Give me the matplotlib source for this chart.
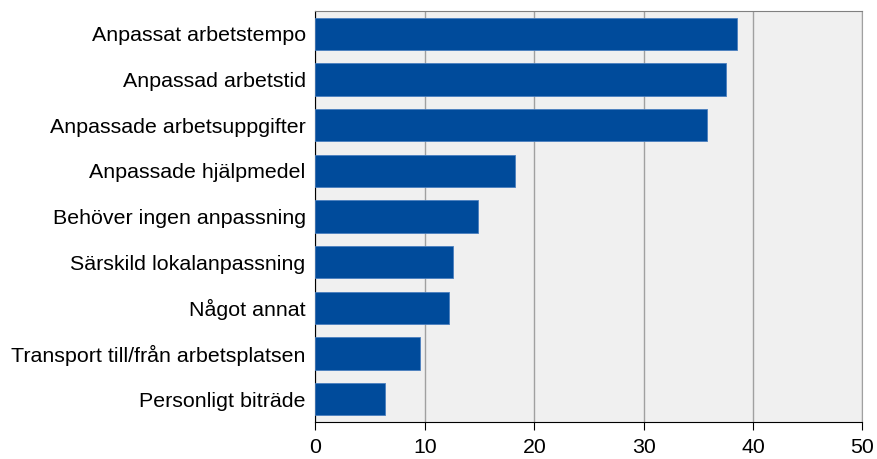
import numpy as np
import matplotlib.pyplot as plt

plt.rcParams['font.family'] = ['Liberation Sans', 'DejaVu Sans']

# Categories (top to bottom) and percentages
categories = [
    "Anpassat arbetstempo",
    "Anpassad arbetstid",
    "Anpassade arbetsuppgifter",
    "Anpassade hjälpmedel",
    "Behöver ingen anpassning",
    "Särskild lokalanpassning",
    "Något annat",
    "Transport till/från arbetsplatsen",
    "Personligt biträde",
]
values = [38.5, 37.5, 35.8, 18.2, 14.9, 12.6, 12.2, 9.6, 6.4]
xticks = [0, 10, 20, 30, 40, 50]

fig = plt.figure(figsize=(8.78, 4.59), dpi=100)
ax = fig.add_axes([0.3593, 0.0806, 0.623, 0.8954])

y = np.arange(len(categories))
ax.barh(y, values, height=0.707, color='#004b9b', edgecolor='#4a7fbf', linewidth=0.6, zorder=3)

ax.set_facecolor('#f0f0f0')
ax.set_xlim(0, 50)
ax.set_ylim(len(categories) - 0.5, -0.5)
ax.set_xticks(xticks)
ax.set_yticks(y)
ax.set_yticklabels(categories, fontsize=15.4)
ax.tick_params(axis='x', labelsize=15.3, length=5.5, direction='out', color='black', pad=6)
ax.tick_params(axis='y', length=0, pad=7)
ax.xaxis.grid(True, color='#a0a0a0', linewidth=1, zorder=0)

ax.spines['left'].set_color('black')
ax.spines['bottom'].set_color('black')
ax.spines['top'].set_color('#808080')
ax.spines['right'].set_color('#a0a0a0')

fig.savefig('out.png', dpi=100)
